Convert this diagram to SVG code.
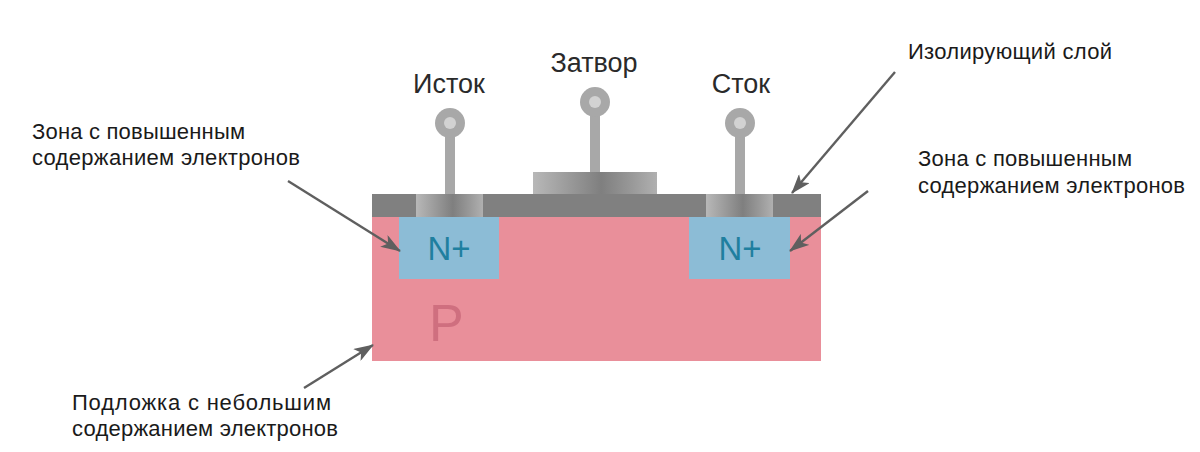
<svg xmlns="http://www.w3.org/2000/svg" width="1200" height="452" viewBox="0 0 1200 452">
<style>
text{font-family:"Liberation Sans",Arial,sans-serif;fill:#1a1a1a}
.lbl{font-size:22px}
.term{font-size:27px;fill:#2a2a2a}
.np{font-size:33px;fill:#1f7f9f}
.pin{fill:#a8a8a8}
.hole{fill:#d2d2d2}
.conn{stroke:#5f5f5f;stroke-width:2.4;fill:none;marker-end:url(#arr)}
</style>
<defs>
<marker id="arr" viewBox="0 0 20 14" refX="19" refY="7" markerWidth="20" markerHeight="14" markerUnits="userSpaceOnUse" orient="auto"><path d="M0 0L20 7L0 14L5 7Z" fill="#5f5f5f"/></marker>
<linearGradient id="met" x1="0" x2="1" y1="0" y2="0"><stop offset="0" stop-color="#b8b8b8"/><stop offset=".55" stop-color="#7f7f7f"/><stop offset=".8" stop-color="#999"/><stop offset="1" stop-color="#b0b0b0"/></linearGradient>
</defs>
<rect width="1200" height="452" fill="#fff"/>
<g id="substrate"><rect x="372" y="216" width="449" height="145" fill="#e98f9a"/><text x="429" y="341" font-size="52" style="fill:#cf6f7f">P</text></g>
<g id="insulator"><rect x="372" y="194" width="449" height="23" fill="#808080"/></g>
<g id="n-left"><rect x="399" y="217" width="100" height="62" fill="#8cbcd6"/><text class="np" x="449" y="260" text-anchor="middle">N+</text></g>
<g id="n-right"><rect x="689" y="217" width="101" height="62" fill="#8cbcd6"/><text class="np" x="740" y="260" text-anchor="middle">N+</text></g>
<g id="source"><rect x="416" y="194" width="67" height="23" fill="url(#met)"/><rect x="445" y="130" width="10" height="64" class="pin"/><circle cx="450" cy="123" r="15" class="pin"/><circle cx="450" cy="123" r="6" class="hole"/><text class="term" x="449" y="93" text-anchor="middle">Исток</text></g>
<g id="gate"><rect x="533" y="172" width="124" height="22" fill="url(#met)"/><rect x="590" y="108" width="10" height="64" class="pin"/><circle cx="595" cy="102" r="15" class="pin"/><circle cx="595" cy="102" r="6" class="hole"/><text class="term" x="594" y="72" text-anchor="middle">Затвор</text></g>
<g id="drain"><rect x="706" y="194" width="67" height="23" fill="url(#met)"/><rect x="735" y="130" width="10" height="64" class="pin"/><circle cx="740" cy="123" r="15" class="pin"/><circle cx="740" cy="123" r="6" class="hole"/><text class="term" x="741" y="93" text-anchor="middle">Сток</text></g>
<g id="label-left"><text class="lbl" textLength="213" x="32" y="139">Зона с повышенным</text><text class="lbl" textLength="268" x="32" y="165">содержанием электронов</text></g>
<g id="label-right"><text class="lbl" textLength="214" x="918" y="166">Зона с повышенным</text><text class="lbl" textLength="267" x="918" y="193">содержанием электронов</text></g>
<g id="label-insulator"><text class="lbl" textLength="204" x="908" y="59">Изолирующий слой</text></g>
<g id="label-substrate"><text class="lbl" textLength="259" x="72" y="410">Подложка с небольшим</text><text class="lbl" textLength="266" x="72" y="436">содержанием электронов</text></g>
<g id="connectors">
<path class="conn" d="M288 181L400 251"/>
<path class="conn" d="M895 72L792 193"/>
<path class="conn" d="M868 191L790 251"/>
<path class="conn" d="M304 388L373 345"/>
</g>
</svg>
